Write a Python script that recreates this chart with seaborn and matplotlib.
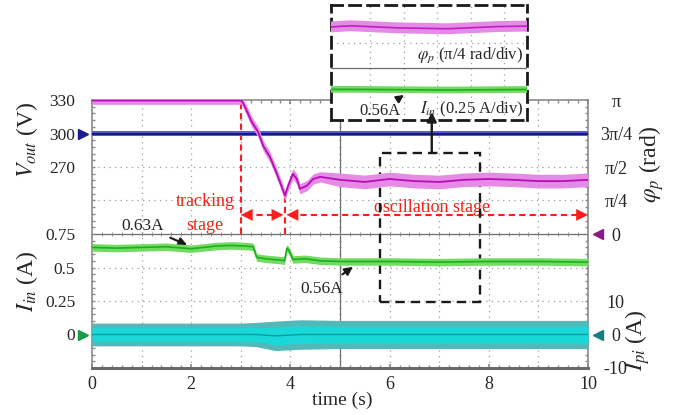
import numpy as np
import matplotlib
matplotlib.use('Agg')
import matplotlib.pyplot as plt
from matplotlib import transforms
from matplotlib.patches import Rectangle
from matplotlib.ticker import MultipleLocator
import seaborn as sns

# ---- scope traces ----
# phase phi_p (rad)
phi_t = [0, 1, 2, 2.98, 3.02, 3.12, 3.22, 3.35, 3.45, 3.59, 3.69, 3.79, 3.89, 3.95, 4.05,
         4.13, 4.19, 4.33, 4.46, 4.6, 5, 5.5, 6, 6.5, 7, 7.5, 8, 8.5, 9, 9.5, 10]
phi_rad = [3.13, 3.13, 3.13, 3.13, 3.125, 2.89, 2.63, 2.39, 2.07, 1.80, 1.52, 1.22, 0.90, 1.12, 1.41,
           1.29, 1.06, 1.13, 1.29, 1.34, 1.27, 1.22, 1.29, 1.24, 1.22, 1.27, 1.29, 1.27, 1.24, 1.24, 1.27]
phi_noise = [0.09] * 5 + [0.12] * 15 + [0.16] * 11

# output voltage (V)
vout_t = [0, 2.5, 5, 7.5, 10]
vout_v = [300, 300, 300, 300, 300]
vout_noise = [2.6, 2.6, 2.6, 2.6, 2.6]

# input current I_in (A)
iin_t = [0, 0.5, 1, 1.5, 2, 2.5, 2.8, 3.1, 3.25, 3.32, 3.5, 3.8, 3.88, 3.93, 3.98, 4.05,
         4.3, 4.6, 5, 6, 7, 8, 9, 10]
iin_a = [0.65, 0.645, 0.65, 0.655, 0.64, 0.66, 0.665, 0.66, 0.655, 0.575, 0.565, 0.555, 0.55, 0.645,
         0.62, 0.56, 0.565, 0.55, 0.545, 0.545, 0.54, 0.545, 0.545, 0.54]
iin_noise = [0.028] * 24

# current I_pi (A)
ipi_t = [0, 1, 2, 3, 3.3, 3.7, 4.2, 5, 7.5, 10]
ipi_a = [0, 0, 0, 0, 0, -0.4, 0, 0, 0, 0]
ipi_noise = [3.4, 3.4, 3.4, 3.4, 3.6, 4.4, 4.4, 4.2, 4.2, 4.2]

x_ticks = [0, 2, 4, 6, 8, 10]
vout_ticks = [330, 300, 270]
iin_ticks = [0.75, 0.5, 0.25, 0]
phi_ticks = [np.pi, 3 * np.pi / 4, np.pi / 2, np.pi / 4, 0]
phi_labels = ['π', '3π/4', 'π/2', 'π/4', '0']
ipi_ticks = [10, 0, -10]

sns.set_theme(style='white')
plt.rcParams['font.family'] = ['Liberation Serif', 'DejaVu Serif']
plt.rcParams['mathtext.fontset'] = 'stix'

W, H = 679, 415
fig = plt.figure(figsize=(W / 100, H / 100), dpi=100)
rect = [92 / W, 1 - 368 / H, 496 / W, 268 / H]

# base screen: x in s, y in divisions
ax = fig.add_axes(rect)
ax.set_xlim(0, 10)
ax.set_ylim(-4, 4)
grid_c = '#9c9c9c'
for t in range(1, 10):
    if t != 5:
        ax.axvline(t, color=grid_c, lw=0.9, ls=(0, (1, 3.5)), zorder=0)
for d in [-3, -2, -1, 1, 2, 3]:
    ax.axhline(d, color=grid_c, lw=0.9, ls=(0, (1, 3.5)), zorder=0)
ax.axvline(5, color='#6e6e6e', lw=0.9, zorder=0)
ax.axhline(0, color='#6e6e6e', lw=0.9, zorder=0)
ax.vlines(np.arange(0.2, 10, 0.2), -0.06, 0.06, color='#8a8a8a', lw=0.7, zorder=0)
ax.hlines(np.arange(-3.8, 4, 0.2), 4.97, 5.03, color='#8a8a8a', lw=0.7, zorder=0)
for s in ax.spines.values():
    s.set_color('#8a8a8a')
    s.set_linewidth(1.2)
ax.spines['bottom'].set_linewidth(2.2)
ax.spines['bottom'].set_color('#6a6a6a')
ax.set_xticks(x_ticks)
ax.set_xticklabels([str(v) for v in x_ticks])
ax.xaxis.set_minor_locator(MultipleLocator(0.2))
ax.yaxis.set_minor_locator(MultipleLocator(0.2))
ax.set_yticks([])
ax.tick_params(axis='x', which='major', direction='in', length=3, color='#8a8a8a',
               labelsize=13, pad=6, top=True, bottom=True)
ax.tick_params(which='minor', direction='in', length=2.5, color='#8a8a8a',
               top=True, bottom=True, left=True, right=True)


def overlay(ylim, side):
    a = fig.add_axes(rect, sharex=ax)
    a.patch.set_visible(False)
    for s in a.spines.values():
        s.set_visible(False)
    a.set_ylim(*ylim)
    a.tick_params(axis='x', which='both', bottom=False, top=False, labelbottom=False)
    a.tick_params(axis='y', which='both', length=0)
    if side == 'right':
        a.yaxis.tick_right()
    return a


ax_v = overlay((90, 330), 'left')
ax_phi = overlay((-np.pi, np.pi), 'right')
ax_i = overlay((-0.25, 1.75), 'left')
ax_ipi = overlay((-10, 70), 'right')

ax_v.set_yticks(vout_ticks)
ax_v.set_yticklabels([str(v) for v in vout_ticks])
ax_i.set_yticks(iin_ticks)
ax_i.set_yticklabels(['0.75', '0.5', '0.25', '0'])
for a in (ax_v, ax_i):
    a.tick_params(axis='y', labelsize=12.5, pad=12)
ax_phi.set_yticks(phi_ticks)
ax_phi.set_yticklabels(phi_labels)
ax_ipi.set_yticks(ipi_ticks)
ax_ipi.set_yticklabels([str(v) for v in ipi_ticks])
for a in (ax_phi, ax_ipi):
    a.tick_params(axis='y', labelsize=13, pad=20)
    for lab in a.get_yticklabels():
        lab.set_ha('center')


def trace(a, t, y, noise, band_c, line_c, lw=1.2, inner=None):
    y = np.asarray(y, float)
    n = np.asarray(noise, float)
    a.fill_between(t, y - n, y + n, color=band_c, lw=0)
    if inner is not None:
        a.fill_between(t, y - n * 0.6, y + n * 0.6, color=inner, lw=0)
    sns.lineplot(x=t, y=y, ax=a, color=line_c, lw=lw)


trace(ax_ipi, ipi_t, ipi_a, ipi_noise, '#52b8b8', '#109a9a', lw=1.0, inner='#1ad8d8')
trace(ax_i, iin_t, iin_a, iin_noise, '#72dc62', '#1fae1f', lw=1.2)
trace(ax_v, vout_t, vout_v, vout_noise, '#5c5cd0', '#16168e', lw=1.5)
trace(ax_phi, phi_t, phi_rad, phi_noise, '#e58be5', '#b70cb7', lw=1.3)

# channel markers
for a, yv, c, xf, m in [(ax_v, 300, '#1c1c8c', -0.018, '>'), (ax_i, 0, '#1a9a4a', -0.018, '>'),
                        (ax_phi, 0, '#8a1a8a', 1.021, '<'), (ax_ipi, 0, '#138080', 1.021, '<')]:
    tr = transforms.blended_transform_factory(a.transAxes, a.transData)
    a.plot([xf], [yv], marker=m, color=c, ms=7, transform=tr, clip_on=False)

# stage annotations (main screen, divisions)
red = '#ff1c1c'
t_min = phi_t[int(np.argmin(phi_rad))]
ax.vlines(3, 0, 3.98, color=red, lw=1.5, ls=(0, (3, 2)), zorder=5)
ax.vlines(t_min, 0, min(phi_rad) / (np.pi / 4), color=red, lw=1.5, ls=(0, (3, 2)), zorder=5)
ax.hlines(0.57, 3.1, t_min - 0.1, color=red, lw=1.5, ls=(0, (3, 2)), zorder=5)
ax.hlines(0.57, t_min + 0.1, 9.85, color=red, lw=1.5, ls=(0, (3, 2)), zorder=5)
hp = dict(arrowstyle='-|>,head_length=0.6,head_width=0.3', color=red, lw=0.1,
          shrinkA=0, shrinkB=0, mutation_scale=14)
for tip, tail in [(3.0, 3.2), (t_min - 0.03, t_min - 0.23), (t_min + 0.03, t_min + 0.23),
                  (10.0, 9.8)]:
    ax.annotate('', xy=(tip, 0.57), xytext=(tail, 0.57), arrowprops=hp, annotation_clip=False,
                zorder=6)
ax.text(2.28, 0.96, 'tracking', color=red, fontsize=13, ha='center', va='center')
ax.text(2.28, 0.24, 'stage', color=red, fontsize=13, ha='center', va='center')
ax.text(6.85, 0.8, 'oscillation stage', color=red, fontsize=13, ha='center', va='center')

# value callouts
ax.annotate('0.63A', xy=(1.92, -0.33), xytext=(1.03, 0.24), fontsize=12.5, ha='center',
            va='center', arrowprops=dict(arrowstyle='-|>', color='k', lw=1.5, shrinkA=2,
                                         shrinkB=0, mutation_scale=12))
ax.annotate('0.56A', xy=(5.26, -0.98), xytext=(4.64, -1.64), fontsize=12.5, ha='center',
            va='center', arrowprops=dict(arrowstyle='-|>', color='k', lw=1.5, shrinkA=4,
                                         shrinkB=0, mutation_scale=12))
ax.add_patch(Rectangle((5.8, -2.03), 2.02, 4.45, fill=False, ec='k', lw=1.7,
                       ls=(0, (4, 2.5)), zorder=7))

# zoomed inset
ins_rect = [331 / W, 1 - 120 / H, 196 / W, 115 / H]
ins = fig.add_axes(ins_rect)
ins.set_facecolor('white')
ins.set_xlim(5.8, 7.82)
ins.set_ylim(-1.55, 1.88)
ins.set_xticks([])
ins.set_yticks([])
for k in range(5):
    ins.axvline(5.8 + (39 + 33.5 * k) / 97, color=grid_c, lw=0.9, ls=(0, (1, 3.5)), zorder=0)
ins.axhline(0.75, color=grid_c, lw=0.9, ls=(0, (1, 3.5)), zorder=0)
ins.axhline(0, color='#6e6e6e', lw=0.9, zorder=0)
for s in ins.spines.values():
    s.set_linestyle((0, (4, 2.5)))
    s.set_linewidth(2)
    s.set_color('k')
    s.set_zorder(10)

ins_phi = fig.add_axes(ins_rect, sharex=ins)
ins_i = fig.add_axes(ins_rect, sharex=ins)
for a, ylim in [(ins_phi, (0.3 - 1.55 * np.pi / 4, 0.3 + 1.88 * np.pi / 4)),
                (ins_i, (0.704 - 1.55 * 0.25, 0.704 + 1.88 * 0.25))]:
    a.patch.set_visible(False)
    a.axis('off')
    a.set_ylim(*ylim)
trace(ins_phi, phi_t, phi_rad, [n * 0.8 for n in phi_noise], '#e58be5', '#c21cc2', lw=1.2)
trace(ins_i, iin_t, iin_a, [n * 0.9 for n in iin_noise], '#72dc62', '#1fae1f', lw=1.2)
ins.set_xlim(5.8, 7.82)

ins.text(0.98, (120 - 55) / 115, r'$\varphi_p$ (π/4 rad/div)', transform=ins.transAxes,
         fontsize=12, ha='right', va='center', zorder=12)
ins.text(0.98, (120 - 109) / 115, r'$I_{in}$ (0.25 A/div)', transform=ins.transAxes,
         fontsize=12, ha='right', va='center', zorder=12)
ins.annotate('0.56A', xy=((404 - 331) / 196, (120 - 95) / 115),
             xytext=((380 - 331) / 196, (120 - 111) / 115), xycoords='axes fraction',
             textcoords='axes fraction', fontsize=12, ha='center', va='center', zorder=12,
             arrowprops=dict(arrowstyle='-|>', color='k', lw=1.5, shrinkA=3, shrinkB=0,
                             mutation_scale=11))
ins_i.annotate('', xy=(6.85, 3.64), xycoords=ax.transData, xytext=(6.85, 2.42),
               textcoords=ax.transData, annotation_clip=False,
               arrowprops=dict(arrowstyle='-|>', color='k', lw=1.7, shrinkA=0, shrinkB=0,
                               mutation_scale=14))

# axis titles
fig.text(27 / W, 1 - 140 / H, r'$V_{out}$ (V)', rotation=90, fontsize=17, ha='center', va='center')
fig.text(27 / W, 1 - 281 / H, r'$I_{in}$ (A)', rotation=90, fontsize=17, ha='center', va='center')
fig.text(652 / W, 1 - 165 / H, r'$\varphi_p$ (rad)', rotation=90, fontsize=17, ha='center',
         va='center')
fig.text(638 / W, 1 - 340 / H, r'$I_{pi}$ (A)', rotation=90, fontsize=17, ha='center',
         va='center')
fig.text(342 / W, 1 - 400 / H, 'time (s)', fontsize=14, ha='center', va='center')

ax.set_xlim(0, 10)
fig.savefig('out.png', dpi=100)
